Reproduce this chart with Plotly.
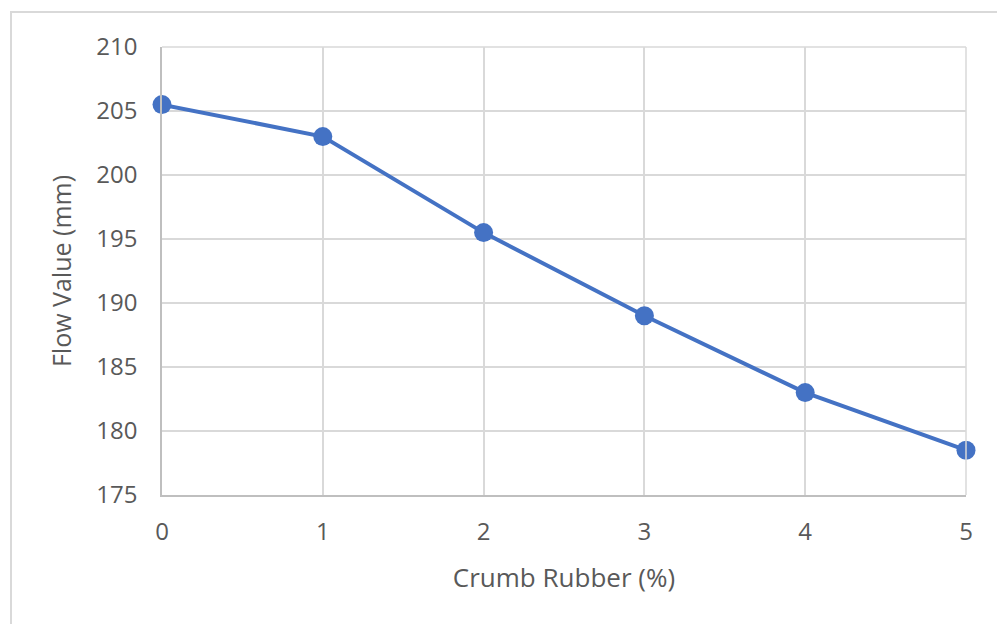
import plotly.graph_objects as go

crumb_rubber = [0, 1, 2, 3, 4, 5]
flow_value = [205.5, 203, 195.5, 189, 183, 178.5]
x_ticks = [0, 1, 2, 3, 4, 5]
y_ticks = [175, 180, 185, 190, 195, 200, 205, 210]

fig = go.Figure()
fig.add_trace(go.Scatter(
    x=crumb_rubber, y=flow_value, mode="lines+markers",
    line=dict(color="#4472C4", width=4),
    marker=dict(color="#4472C4", size=19),
    cliponaxis=False, showlegend=False,
))

font_family = "Open Sans, Lato, sans-serif"
fig.update_layout(
    width=997, height=624,
    margin=dict(l=162, r=31, t=47, b=129),
    paper_bgcolor="white", plot_bgcolor="white",
    font=dict(family=font_family, color="#595959", size=24),
    xaxis=dict(
        range=[0, 5], tickvals=x_ticks, showgrid=True, gridcolor="#d9d9d9", gridwidth=1.5,
        showline=True, linecolor="#bfbfbf", linewidth=1.5, zeroline=False,
        ticks="", ticklabelstandoff=14, tickfont=dict(size=24),
        title=dict(text="Crumb Rubber (%)", font=dict(size=26), standoff=23),
    ),
    yaxis=dict(
        range=[175, 210], tickvals=y_ticks, showgrid=True, gridcolor="#d9d9d9", gridwidth=1.5,
        showline=True, linecolor="#bfbfbf", linewidth=1.5, zeroline=False,
        ticks="", ticklabelstandoff=18, tickfont=dict(size=24),
        title=dict(text="Flow Value (mm)", font=dict(size=25), standoff=18),
    ),
    shapes=[
        dict(type="rect", xref="paper", yref="paper",
             x0=(11 - 162) / 804, x1=1.1, y0=-0.35, y1=(495 - 12) / 448,
             line=dict(color="#d9d9d9", width=2), layer="below"),
        dict(type="line", xref="paper", yref="paper", x0=1, x1=1, y0=0, y1=1,
             line=dict(color="#d9d9d9", width=1.5)),
        dict(type="line", xref="paper", yref="paper", x0=0, x1=1, y0=1, y1=1,
             line=dict(color="#d9d9d9", width=1.5)),
    ],
)

fig.write_html("out.html", config={"displayModeBar": False},
               post_script="document.body.style.margin='0';")
